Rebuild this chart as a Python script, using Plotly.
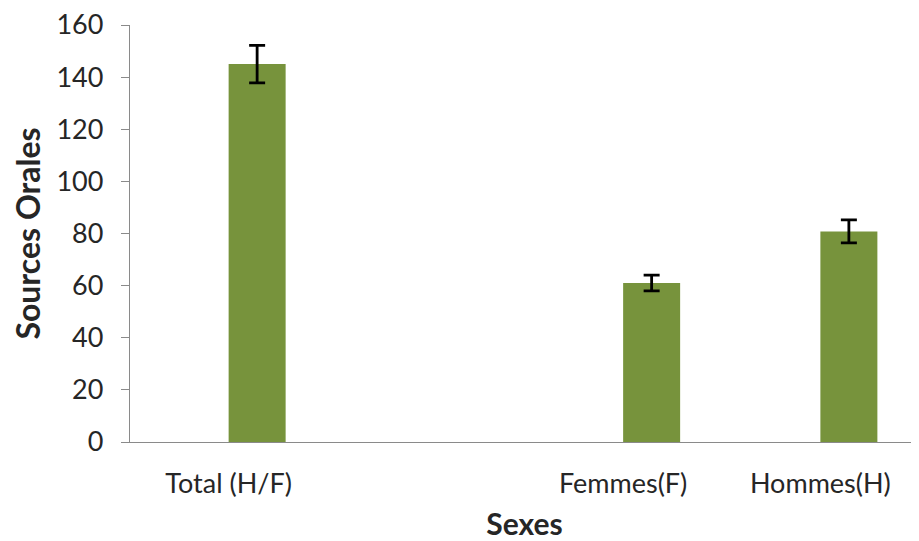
import plotly.graph_objects as go

categories = ["Total (H/F)", " ", "Femmes(F)", "Hommes(H)"]
values = [145, None, 61, 80.8]
errors = [7.2, None, 3.0, 4.4]
y_ticks = [0, 20, 40, 60, 80, 100, 120, 140, 160]

FONT = "Lato"
TXT = "#262626"

fig = go.Figure(
    go.Bar(
        x=categories,
        y=values,
        width=0.289, offset=0,
        marker=dict(color="#77933C", line=dict(width=0)),
        error_y=dict(type="data", array=errors, visible=True,
                     color="#000000", thickness=2.8, width=8),
    )
)

fig.update_layout(
    width=911, height=533,
    margin=dict(l=122, r=0, t=17, b=99),
    plot_bgcolor="white", paper_bgcolor="white",
    showlegend=False,
    font=dict(family=FONT, color=TXT, size=27),
)
fig.update_xaxes(
    type="category", automargin=False,
    categoryorder="array", categoryarray=categories,
    range=[-0.5, 3.5],
    showline=True, linecolor="#8a8a8a", linewidth=1.3,
    ticks="", showgrid=False,
    tickfont=dict(family=FONT, size=27, color=TXT),
    ticklabelstandoff=17, ticklabeloverflow="allow",
    title=dict(text="<b>Sexes</b>", font=dict(family=FONT, size=30, color=TXT), standoff=17),
)
fig.update_yaxes(
    range=[0, 160], tickvals=y_ticks, automargin=False,
    showline=True, linecolor="#8a8a8a", linewidth=1.3,
    ticks="outside", ticklen=8, tickcolor="#8a8a8a", tickwidth=1.3,
    showgrid=False, zeroline=False,
    tickfont=dict(family=FONT, size=27, color=TXT),
    ticklabelstandoff=12, ticklabeloverflow="allow",
    title=dict(text="<b>Sources Orales</b>", font=dict(family=FONT, size=32, color=TXT), standoff=12),
)

fig.write_html("out.html")
